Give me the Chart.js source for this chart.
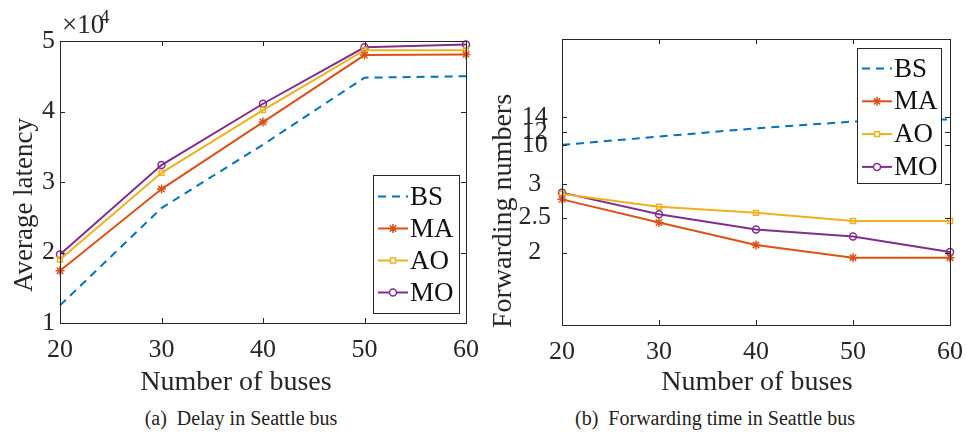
<!DOCTYPE html>
<html>
<head>
<meta charset="utf-8">
<script src="https://cdn.jsdelivr.net/npm/chart.js@4.4.1/dist/chart.umd.min.js"></script>
<style>
    body { margin: 0; background: #fff; width: 966px; height: 433px; overflow: hidden; position: relative; font-family: 'Liberation Serif', serif; }
    .panel { position: absolute; top: 0; width: 483px; height: 400px; }
    .cap { position: absolute; top: 407px; font-size: 20px; color: #222; transform: translateX(-50%); white-space: nowrap; }
</style>
</head>
<body>
<div class="panel" style="left:0"><canvas id="delayChart" width="483" height="400"></canvas></div>
<div class="panel" style="left:483px"><canvas id="forwardChart" width="483" height="400"></canvas></div>
<div class="cap" style="left:241px">(a)&nbsp; Delay in Seattle bus</div>
<div class="cap" style="left:715px">(b)&nbsp; Forwarding time in Seattle bus</div>
<script>
// --- Data ---
const busCounts = [20, 30, 40, 50, 60];
const seriesNames = ['BS', 'MA', 'AO', 'MO'];

const latencyBS = [12500, 26300, 35300, 44800, 45000];
const latencyMA = [17400, 29000, 38500, 48000, 48100];
const latencyAO = [19000, 31300, 40200, 48700, 48700];
const latencyMO = [19700, 32400, 41100, 49100, 49500];

const forwardBS = [10.0, 11.3, 12.5, 13.4, 13.7];
const forwardMA = [2.77, 2.43, 2.11, 1.93, 1.93];
const forwardAO = [2.85, 2.66, 2.57, 2.45, 2.45];
const forwardMO = [2.87, 2.55, 2.33, 2.23, 2.01];

const busTicks = [20, 30, 40, 50, 60];
const latencyTicks = [10000, 20000, 30000, 40000, 50000];
const forwardTicks = [2, 2.5, 3, 10, 12, 14];

// --- Styles ---
const FONT = 'Liberation Serif';
const INK = '#262626';
const seriesStyle = {
    BS: { color: '#0072BD', dash: [8, 6], point: false, radius: 0 },
    MA: { color: '#D95319', dash: [], point: 'star', radius: 4.5 },
    AO: { color: '#EDB120', dash: [], point: 'rect', radius: 3.5 },
    MO: { color: '#7E2F8E', dash: [], point: 'circle', radius: 3.5 }
};

// The right panel's y axis is stretched unevenly, so map values through break points
const warpValues = [1, 2, 2.5, 3, 10, 12, 14, 24];
const warpFracs = [0, 0.253, 0.3756, 0.4935, 0.63, 0.6745, 0.727, 1];

function interp(v, from, to) {
    let i = 0;
    while (i < from.length - 2 && v > from[i + 1]) i++;
    const t = (v - from[i]) / (from[i + 1] - from[i]);
    return to[i] + t * (to[i + 1] - to[i]);
}

class WarpScale extends Chart.LinearScale {
    getPixelForValue(value) {
        return this.getPixelForDecimal(interp(value, warpValues, warpFracs));
    }
    getValueForPixel(pixel) {
        return interp(this.getDecimalForPixel(pixel), warpFracs, warpValues);
    }
}
WarpScale.id = 'warp';
Chart.register(WarpScale);

function makeDatasets(values) {
    return seriesNames.map((name, i) => {
        const s = seriesStyle[name];
        return {
            label: name,
            data: busCounts.map((x, j) => ({ x: x, y: values[i][j] })),
            borderColor: s.color,
            borderWidth: 2,
            borderDash: s.dash,
            pointStyle: s.point,
            pointRadius: s.radius,
            pointBorderWidth: 1.5,
            pointBorderColor: s.color,
            pointBackgroundColor: 'rgba(255,255,255,0)',
            tension: 0,
            clip: false
        };
    });
}

// MATLAB-like box with inward tick marks on all four sides
const boxFrame = {
    id: 'boxFrame',
    afterDatasetsDraw(chart) {
        const { ctx, chartArea: a, scales: { x, y } } = chart;
        ctx.save();
        ctx.strokeStyle = INK;
        ctx.lineWidth = 1;
        ctx.strokeRect(Math.round(a.left) + 0.5, Math.round(a.top) + 0.5, Math.round(a.width), Math.round(a.height));
        ctx.beginPath();
        x.ticks.forEach(t => {
            const px = Math.round(x.getPixelForValue(t.value)) + 0.5;
            ctx.moveTo(px, a.bottom); ctx.lineTo(px, a.bottom - 5);
            ctx.moveTo(px, a.top); ctx.lineTo(px, a.top + 5);
        });
        y.ticks.forEach(t => {
            const py = Math.round(y.getPixelForValue(t.value)) + 0.5;
            ctx.moveTo(a.left, py); ctx.lineTo(a.left + 5, py);
            ctx.moveTo(a.right, py); ctx.lineTo(a.right - 5, py);
        });
        ctx.stroke();
        ctx.restore();
    }
};

// Legend box drawn inside the plot, plus free axis titles
const boxLegend = {
    id: 'boxLegend',
    afterDraw(chart, args, opts) {
        const ctx = chart.ctx;
        ctx.save();
        // axis titles
        (opts.texts || []).forEach(t => {
            ctx.save();
            ctx.translate(t.x, t.y);
            if (t.rotate) ctx.rotate(-Math.PI / 2);
            ctx.fillStyle = INK;
            ctx.font = t.size + 'px "' + FONT + '"';
            ctx.textAlign = t.align || 'center';
            ctx.textBaseline = 'middle';
            ctx.fillText(t.text, 0, 0);
            ctx.restore();
        });
        if (!opts.box) { ctx.restore(); return; }
        const b = opts.box;
        ctx.fillStyle = '#fff';
        ctx.fillRect(b.left, b.top, b.width, b.height);
        ctx.strokeStyle = INK;
        ctx.lineWidth = 1;
        ctx.strokeRect(b.left + 0.5, b.top + 0.5, b.width, b.height);
        chart.data.datasets.forEach((ds, i) => {
            const cy = b.top + b.first + i * b.pitch;
            const x0 = b.left + 5, x1 = b.left + 35;
            ctx.beginPath();
            ctx.strokeStyle = ds.borderColor;
            ctx.lineWidth = 2;
            ctx.setLineDash(ds.borderDash || []);
            ctx.moveTo(x0, cy); ctx.lineTo(x1, cy);
            ctx.stroke();
            ctx.setLineDash([]);
            if (ds.pointStyle) {
                ctx.lineWidth = 1.5;
                ctx.strokeStyle = ds.borderColor;
                ctx.fillStyle = '#fff';
                Chart.helpers.drawPoint(ctx, {
                    pointStyle: ds.pointStyle, radius: ds.pointRadius, borderWidth: 1.5, rotation: 0
                }, (x0 + x1) / 2, cy);
            }
            ctx.fillStyle = '#111';
            ctx.font = '27px "' + FONT + '"';
            ctx.textAlign = 'left';
            ctx.textBaseline = 'middle';
            ctx.fillText(ds.label, x1 + 2, cy + 1);
        });
        ctx.restore();
    }
};

const tickFont = { family: FONT, size: 26, lineHeight: 1.2 };

// keep the plot box where the layout padding puts it, whatever the label overhang
function noOverhang(s) {
    s.paddingLeft = 0;
    s.paddingRight = 0;
    s.paddingTop = 0;
    s.paddingBottom = 0;
}

function xAxis(height) {
    return {
        type: 'linear', min: 20, max: 60,
        afterBuildTicks: s => { s.ticks = busTicks.map(v => ({ value: v })); },
        afterFit: s => { s.height = height; noOverhang(s); },
        ticks: { font: tickFont, color: INK, padding: 12, autoSkip: false, maxRotation: 0 },
        grid: { display: false, drawTicks: false },
        border: { display: false }
    };
}

// --- Left panel: delay ---
new Chart(document.getElementById('delayChart'), {
    type: 'line',
    data: { datasets: makeDatasets([latencyBS, latencyMA, latencyAO, latencyMO]) },
    plugins: [boxFrame, boxLegend],
    options: {
        responsive: false,
        animation: false,
        layout: { padding: { top: 41, right: 17, left: 0, bottom: 0 } },
        scales: {
            x: xAxis(77),
            y: {
                type: 'linear', min: 10000, max: 50000,
                afterBuildTicks: s => { s.ticks = latencyTicks.map(v => ({ value: v })); },
                afterFit: s => { s.width = 60; noOverhang(s); },
                ticks: { font: tickFont, color: INK, padding: 5, autoSkip: false, callback: v => String(v / 10000) },
                grid: { display: false, drawTicks: false },
                border: { display: false }
            }
        },
        plugins: {
            legend: { display: false },
            tooltip: { enabled: false },
            boxLegend: {
                box: { left: 373, top: 175, width: 86, height: 138, first: 21.5, pitch: 32 },
                texts: [
                    { text: 'Average latency', x: 25, y: 205, rotate: true, size: 27 },
                    { text: 'Number of buses', x: 236, y: 383, size: 28 },
                    { text: '\u00d710', x: 62, y: 26, size: 27, align: 'left' },
                    { text: '4', x: 100, y: 18, size: 19, align: 'left' }
                ]
            }
        }
    }
});

// --- Right panel: forwarding ---
new Chart(document.getElementById('forwardChart'), {
    type: 'line',
    data: { datasets: makeDatasets([forwardBS, forwardMA, forwardAO, forwardMO]) },
    plugins: [boxFrame, boxLegend],
    options: {
        responsive: false,
        animation: false,
        layout: { padding: { top: 39, right: 16, left: 0, bottom: 0 } },
        scales: {
            x: xAxis(75),
            y: {
                type: 'warp', min: 1, max: 24,
                afterBuildTicks: s => { s.ticks = forwardTicks.map(v => ({ value: v })); },
                afterFit: s => { s.width = 79; noOverhang(s); },
                ticks: { font: tickFont, color: INK, padding: 11, crossAlign: 'center', autoSkip: false, callback: v => String(v) },
                grid: { display: false, drawTicks: false },
                border: { display: false }
            }
        },
        plugins: {
            legend: { display: false },
            tooltip: { enabled: false },
            boxLegend: {
                box: { left: 374, top: 48, width: 84, height: 135, first: 20.5, pitch: 32.8 },
                texts: [
                    { text: 'Forwarding numbers', x: 21, y: 211, rotate: true, size: 28 },
                    { text: 'Number of buses', x: 274, y: 383, size: 28 }
                ]
            }
        }
    }
});
</script>
</body>
</html>
